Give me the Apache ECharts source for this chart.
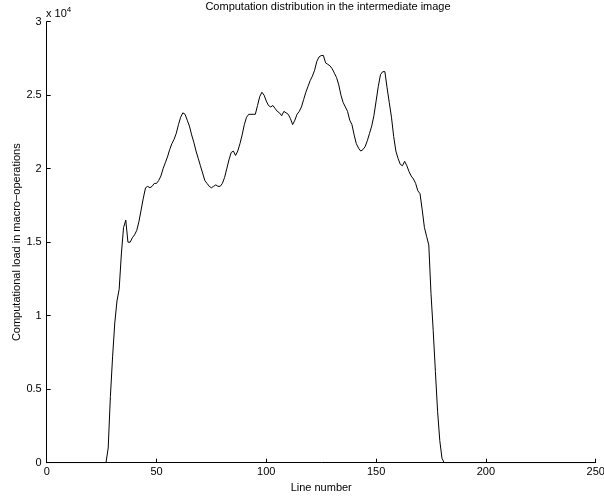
<!DOCTYPE html>
<html>
<head>
<meta charset="utf-8">
<script src="https://cdn.jsdelivr.net/npm/echarts@6/dist/echarts.min.js"></script>
<style>
  html, body { margin: 0; padding: 0; background: #fff; }
  #chart { width: 604px; height: 499px; }
</style>
</head>
<body>
<div id="chart"></div>
<script>
// load per image line, in units of 1e4 macro-operations
const firstLine = 26;
const lastLine = 250;
const loads = [
  0, 0, 0.10, 0.45, 0.72, 0.95, 1.10, 1.18, 1.42, 1.60,
  1.65, 1.50, 1.50, 1.53, 1.55, 1.58, 1.64, 1.72, 1.80, 1.87,
  1.88, 1.87, 1.88, 1.90, 1.90, 1.92, 1.95, 2.00, 2.04, 2.08,
  2.13, 2.17, 2.20, 2.24, 2.30, 2.35, 2.38, 2.37, 2.33, 2.29,
  2.23, 2.18, 2.12, 2.07, 2.02, 1.97, 1.92, 1.90, 1.88, 1.87,
  1.88, 1.89, 1.88, 1.88, 1.90, 1.94, 2.00, 2.06, 2.11, 2.12,
  2.09, 2.12, 2.17, 2.23, 2.30, 2.35, 2.37, 2.37, 2.37, 2.37,
  2.43, 2.49, 2.52, 2.50, 2.46, 2.43, 2.42, 2.43, 2.41, 2.39,
  2.38, 2.36, 2.39, 2.38, 2.37, 2.34, 2.30, 2.33, 2.37, 2.39,
  2.42, 2.47, 2.52, 2.56, 2.60, 2.63, 2.67, 2.73, 2.76, 2.77,
  2.77, 2.72, 2.71, 2.70, 2.68, 2.65, 2.62, 2.57, 2.50, 2.45,
  2.42, 2.39, 2.33, 2.30, 2.23, 2.17, 2.14, 2.12, 2.13, 2.15,
  2.19, 2.24, 2.29, 2.36, 2.46, 2.56, 2.64, 2.66, 2.66, 2.55,
  2.45, 2.35, 2.22, 2.12, 2.07, 2.03, 2.02, 2.05, 2.02, 1.98,
  1.95, 1.93, 1.90, 1.85, 1.83, 1.72, 1.60, 1.54, 1.48, 1.15,
  0.90, 0.62, 0.35, 0.15, 0.03, 0
];
const xTicks = [0, 50, 100, 150, 200, 250];
const yTicks = [0, 0.5, 1, 1.5, 2, 2.5, 3];

const font = 'Liberation Sans, Arial, sans-serif';

// points: flat zero from line 0, the measured lines, flat zero to the end
const points = [[0, 0]];
loads.forEach(function (v, i) { points.push([firstLine + i, v]); });
points.push([lastLine, 0]);

const chart = echarts.init(document.getElementById('chart'));

chart.setOption({
  backgroundColor: '#fff',
  animation: false,
  title: {
    text: 'Computation distribution in the intermediate image',
    left: 328,
    textAlign: 'center',
    top: 1,
    padding: 0,
    textStyle: { fontFamily: font, fontSize: 11, fontWeight: 'normal', color: '#000' }
  },
  grid: {
    left: 46.7, right: 8.3, top: 21.7, bottom: 36.3,
    containLabel: false,
    outerBoundsMode: 'none'
  },
  xAxis: {
    type: 'value',
    min: xTicks[0],
    max: xTicks[xTicks.length - 1],
    interval: 50,
    name: 'Line number',
    nameLocation: 'middle',
    nameGap: 20,
    nameMoveOverlap: false,
    nameTextStyle: { fontFamily: font, fontSize: 11, color: '#000' },
    axisLine: { lineStyle: { color: '#000', width: 1 } },
    axisTick: { inside: true, length: 4, lineStyle: { color: '#000' } },
    axisLabel: { fontFamily: font, fontSize: 11, color: '#000', margin: 4 },
    splitLine: { show: false }
  },
  yAxis: {
    type: 'value',
    min: yTicks[0],
    max: yTicks[yTicks.length - 1],
    interval: 0.5,
    name: 'Computational load in macro\u2212operations',
    nameLocation: 'middle',
    nameGap: 24,
    nameMoveOverlap: false,
    nameTextStyle: { fontFamily: font, fontSize: 11, color: '#000' },
    axisLine: { show: true, lineStyle: { color: '#000', width: 1 } },
    axisTick: { show: true, inside: true, length: 4, lineStyle: { color: '#000' } },
    axisLabel: { fontFamily: font, fontSize: 11, color: '#000', margin: 5 },
    splitLine: { show: false }
  },
  graphic: [{
    type: 'text',
    left: 46,
    top: 6,
    style: {
      text: 'x 10{sup|4}',
      fontFamily: font,
      fontSize: 11,
      fill: '#000',
      rich: { sup: { fontSize: 8, verticalAlign: 'top', padding: [0, 0, 7, 0] } }
    }
  }],
  series: [{
    type: 'line',
    data: points,
    showSymbol: false,
    lineStyle: { color: '#000', width: 1 },
    z: 3
  }]
});
</script>
</body>
</html>
